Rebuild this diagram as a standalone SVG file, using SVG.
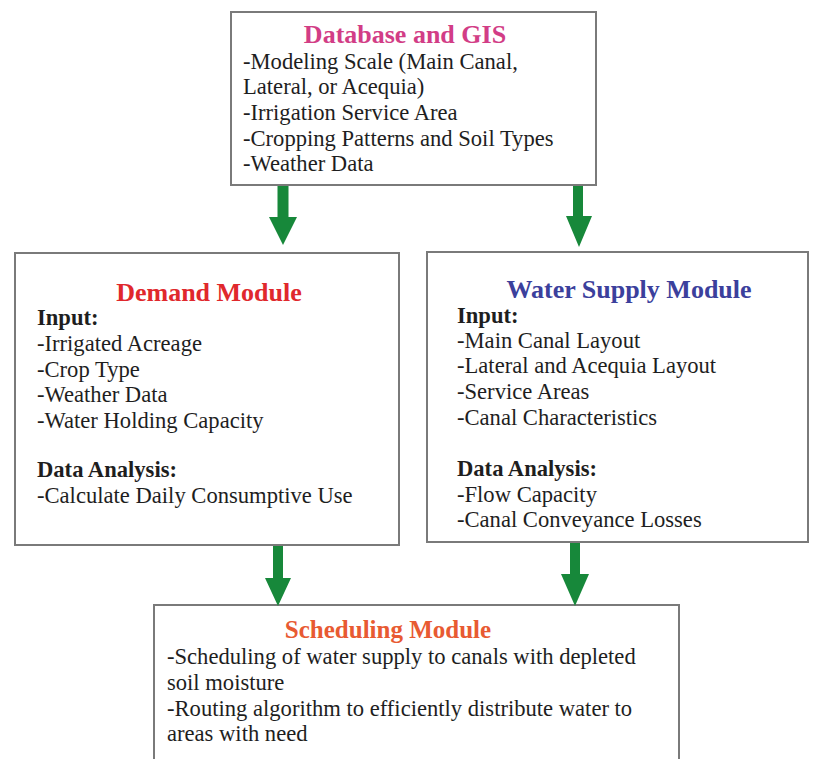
<svg xmlns="http://www.w3.org/2000/svg" width="813" height="759" viewBox="0 0 813 759">
<style>
.box{fill:#ffffff;stroke:#7a7a7a;stroke-width:2}
.t{font-family:"Liberation Serif","Times New Roman",serif;font-size:22.6px;fill:#1e1e1e}
.b{font-weight:bold}
.title{font-family:"Liberation Serif","Times New Roman",serif;font-size:26px;font-weight:bold;text-anchor:middle}
.arrow{fill:#17883a}
</style>
<rect x="0" y="0" width="813" height="759" fill="#ffffff"/>
<g id="database">
<rect class="box" x="231" y="12" width="365" height="173"/>
<text class="title" x="405" y="43" fill="#d23d86">Database and GIS</text>
<text class="t" x="243" y="69">-Modeling Scale (Main Canal,</text>
<text class="t" x="243" y="94">Lateral, or Acequia)</text>
<text class="t" x="243" y="120">-Irrigation Service Area</text>
<text class="t" x="243" y="146">-Cropping Patterns and Soil Types</text>
<text class="t" x="243" y="171">-Weather Data</text>
</g>
<g id="demand">
<rect class="box" x="15" y="253" width="384" height="292"/>
<text class="title" x="209" y="301" fill="#e0282c">Demand Module</text>
<text class="t b" x="37" y="325">Input:</text>
<text class="t" x="37" y="351">-Irrigated Acreage</text>
<text class="t" x="37" y="377">-Crop Type</text>
<text class="t" x="37" y="402">-Weather Data</text>
<text class="t" x="37" y="428">-Water Holding Capacity</text>
<text class="t b" x="37" y="477">Data Analysis:</text>
<text class="t" x="37" y="503">-Calculate Daily Consumptive Use</text>
</g>
<g id="watersupply">
<rect class="box" x="427" y="252" width="381" height="290"/>
<text class="title" x="629" y="298" fill="#3b409c">Water Supply Module</text>
<text class="t b" x="457" y="323">Input:</text>
<text class="t" x="457" y="348">-Main Canal Layout</text>
<text class="t" x="457" y="373">-Lateral and Acequia Layout</text>
<text class="t" x="457" y="399">-Service Areas</text>
<text class="t" x="457" y="425">-Canal Characteristics</text>
<text class="t b" x="457" y="476">Data Analysis:</text>
<text class="t" x="457" y="502">-Flow Capacity</text>
<text class="t" x="457" y="527">-Canal Conveyance Losses</text>
</g>
<g id="scheduling">
<rect class="box" x="154" y="605" width="525" height="180"/>
<text class="title" x="388" y="638" fill="#e85a32" style="font-size:25px">Scheduling Module</text>
<text class="t" x="167" y="664">-Scheduling of water supply to canals with depleted</text>
<text class="t" x="167" y="690">soil moisture</text>
<text class="t" x="167" y="716">-Routing algorithm to efficiently distribute water to</text>
<text class="t" x="167" y="741">areas with need</text>
</g>
<g id="connectors">
<polygon class="arrow" points="277.5,186 288.5,186 288.5,217 297,217 283,245 269,217 277.5,217"/>
<polygon class="arrow" points="573,186 583,186 583,216 592,216 579,247 566,216 573,216"/>
<polygon class="arrow" points="273,546 283,546 283,578 291,578 278,606 265,578 273,578"/>
<polygon class="arrow" points="570,543 580,543 580,574 589,574 575,606 561,574 570,574"/>
</g>
</svg>
